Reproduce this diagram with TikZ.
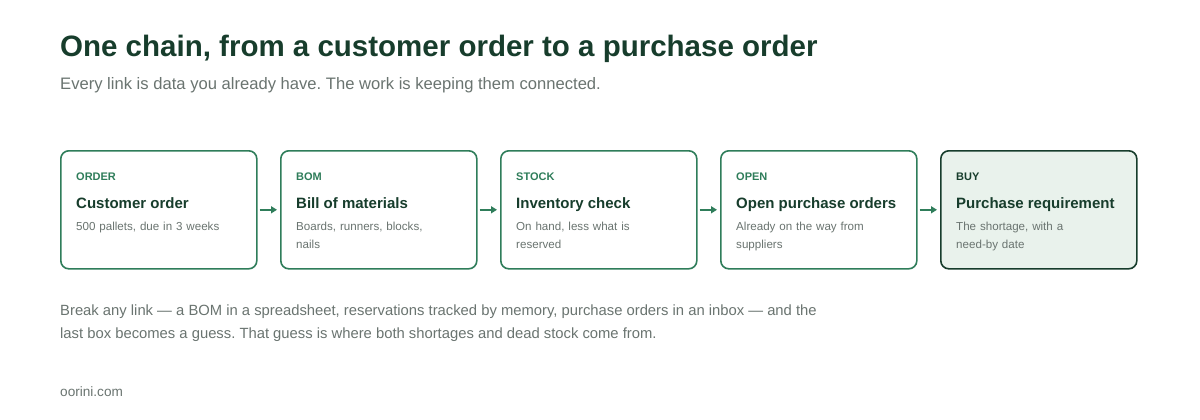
\documentclass[tikz,border=0pt]{standalone}
\usepackage{fontspec}
\setmainfont{Liberation Sans}
\usetikzlibrary{arrows.meta}
\definecolor{dk}{HTML}{173D2C}
\definecolor{gr}{HTML}{2F7D5A}
\definecolor{gy}{HTML}{6A7470}
\definecolor{lf}{HTML}{E9F2EC}
\begin{document}
\frenchspacing
\begin{tikzpicture}[x=1pt,y=-1pt,
 box/.style={draw=gr,line width=1.6pt,rounded corners=8pt,minimum width=196pt,minimum height=118pt,anchor=north west,inner sep=0pt},
 tag/.style={anchor=base west,text=gr,font=\fontsize{11}{13}\selectfont\bfseries},
 ttl/.style={anchor=base west,text=dk,font=\fontsize{15}{18}\selectfont\bfseries},
 dsc/.style={anchor=north west,text=gy,align=left,text width=175pt,inner sep=0pt,font=\fontsize{11.6}{18}\selectfont},
 arr/.style={-{Triangle[length=6pt,width=7pt]},draw=gr,line width=1.6pt}]
\useasboundingbox (0,0) rectangle (1200,420);
\fill[white] (0,0) rectangle (1200,420);
\node[anchor=base west,inner sep=0pt,text=dk,font=\fontsize{29.5}{34}\selectfont\bfseries] (title) at (60,57) {One chain, from a customer order to a purchase order};
\node[anchor=base west,inner sep=0pt,text=gy,font=\fontsize{16.6}{20}\selectfont] (sub) at (60,90) {Every link is data you already have. The work is keeping them connected.};
\foreach \i/\x/\t/\h/\d in {1/60/ORDER/Customer order/{500 pallets, due in 3 weeks},
 2/280/BOM/Bill of materials/{Boards, runners, blocks,\\nails},
 3/500/STOCK/Inventory check/{On hand, less what is\\reserved},
 4/720/OPEN/Open purchase orders/{Already on the way from\\suppliers}}{
 \node[box] (b\i) at (\x,150) {};
 \node[tag,inner sep=0pt] (t\i) at (\x+16,180) {\t};
 \node[ttl,inner sep=0pt] (h\i) at (\x+16,208) {\h};
 \node[dsc] (d\i) at (\x+16,222) {\d};
}
\node[box,draw=dk,fill=lf] (b5) at (940,150) {};
\node[tag,text=dk,inner sep=0pt] (t5) at (956,180) {BUY};
\node[ttl,inner sep=0pt] (h5) at (956,208) {Purchase requirement};
\node[dsc] (d5) at (956,222) {The shortage, with a\\need-by date};
\foreach \a/\b in {1/2,2/3,3/4,4/5}{\draw[arr] ([xshift=2pt]b\a.east) -- ([xshift=-3pt]b\b.west);}
\node[anchor=north west,inner sep=0pt,text=gy,align=left,font=\fontsize{14.8}{23}\selectfont] (note) at (60,305) {Break any link — a BOM in a spreadsheet, reservations tracked by memory, purchase orders in an inbox — and the\\last box becomes a guess. That guess is where both shortages and dead stock come from.};
\node[anchor=base west,inner sep=0pt,text=gy,font=\fontsize{13.6}{16}\selectfont] (site) at (60,396) {oorini.com};
\end{tikzpicture}
\end{document}
